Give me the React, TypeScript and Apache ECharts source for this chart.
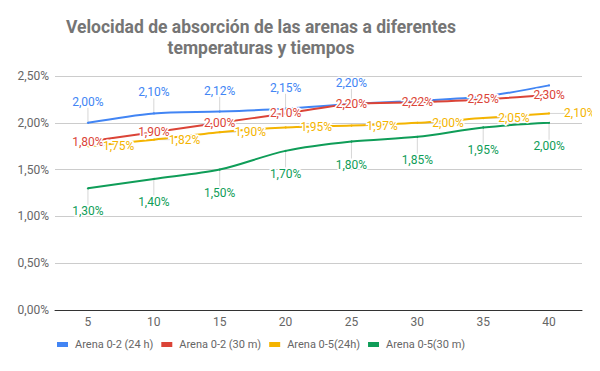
import React, { useEffect, useRef } from "react";
import * as echarts from "echarts";

const categories = ["5", "10", "15", "20", "25", "30", "35", "40"];
const seriesNames = ["Arena 0-2 (24 h)", "Arena 0-2 (30 m)", "Arena 0-5(24h)", "Arena 0-5(30 m)"];
const blue = [2.0, 2.1, 2.12, 2.15, 2.2, 2.235, 2.28, 2.4];
const blueLabelShown = [true, true, true, true, true, false, false, false];
const red = [1.8, 1.9, 2.0, 2.1, 2.2, 2.22, 2.25, 2.3];
const yellow = [1.75, 1.82, 1.9, 1.95, 1.97, 2.0, 2.05, 2.1];
const green = [1.3, 1.4, 1.5, 1.7, 1.8, 1.85, 1.95, 2.0];
const colors = ["#4285F4", "#DB4437", "#F4B400", "#0F9D58"];
const titleText = "Velocidad de absorción de las arenas a diferentes\ntemperaturas y tiempos";

const fmt = (v: number) => v.toFixed(2).replace(".", ",") + "%";

export default function App() {
  const ref = useRef<HTMLDivElement>(null);
  useEffect(() => {
    if (!ref.current) return;
    const chart = echarts.init(ref.current, null, { renderer: "svg" });
    const font = "Roboto, Arial, sans-serif";
    const mk = (
      name: string,
      data: number[],
      color: string,
      position: string,
      distance: number,
      shown?: boolean[]
    ) => ({
      type: "line",
      name,
      z: 3,
      data: data.map((v, i) => ({
        value: v,
        label: { show: shown ? shown[i] : true },
      })),
      smooth: 0.3,
      symbol: "circle",
      symbolSize: 2,
      showSymbol: true,
      itemStyle: { color },
      lineStyle: { color, width: 2 },
      label: {
        show: true,
        position,
        distance,
        color,
        fontSize: 12,
        fontFamily: font,
        textBorderColor: "#fff",
        textBorderWidth: 3,
        formatter: (p: any) => fmt(p.value),
      },
      labelLayout: { moveOverlap: false },
      emphasis: { disabled: true },
    });
    const stem = (data: number[], dx: number, dy: number, shown?: boolean[]) => ({
      type: "custom",
      z: 1,
      silent: true,
      data: data.map((v, i) => [i, v]),
      renderItem: (params: any, api: any) => {
        const i = api.value(0);
        if (shown && !shown[i]) return null;
        const p = api.coord([i, api.value(1)]);
        return {
          type: "line",
          shape: { x1: p[0], y1: p[1], x2: p[0] + dx, y2: p[1] + dy },
          style: { stroke: "#d6d6d6", lineWidth: 1 },
        };
      },
    });
    chart.setOption({
      animation: false,
      graphic: [
        {
          type: "text",
          x: 261,
          y: 16,
          style: {
            text: titleText,
            textAlign: "center",
            textVerticalAlign: "top",
            fontSize: 17.5,
            fontWeight: "bold",
            fontFamily: font,
            fill: "#757575",
            lineHeight: 21,
          },
        },
      ],
      grid: { left: 55, right: 18, top: 76, bottom: 61 },
      legend: {
        left: 57,
        top: 339,
        padding: 0,
        icon: "rect",
        itemWidth: 11,
        itemHeight: 5,
        itemGap: 8,
        textStyle: { color: "#666", fontSize: 11, fontFamily: font, padding: [0, 0, 0, 2] },
        data: seriesNames,
      },
      xAxis: {
        type: "category",
        data: categories,
        boundaryGap: true,
        axisLine: { show: true, lineStyle: { color: "#333", width: 1 } },
        axisTick: { show: false },
        axisLabel: { color: "#666", fontSize: 12, fontFamily: font, margin: 6 },
        splitLine: { show: false },
      },
      yAxis: {
        type: "value",
        min: 0,
        max: 2.5,
        interval: 0.5,
        axisLine: { show: false },
        axisTick: { show: false },
        axisLabel: { color: "#666", fontSize: 12, fontFamily: font, margin: 6, formatter: (v: number) => fmt(v) },
        splitLine: { lineStyle: { color: "#ccc", width: 1 } },
      },
      series: [
        stem(blue, 0, -15, blueLabelShown),
        stem(yellow, 16, 0),
        stem(green, 0, 17),
        mk(seriesNames[0], blue, colors[0], "top", 14, blueLabelShown),
        mk(seriesNames[1], red, colors[1], "inside", 0),
        mk(seriesNames[2], yellow, colors[2], "right", 14),
        mk(seriesNames[3], green, colors[3], "bottom", 16),
      ],
    });
    return () => chart.dispose();
  }, []);
  return <div ref={ref} style={{ width: 600, height: 371, margin: -8 }} />;
}
